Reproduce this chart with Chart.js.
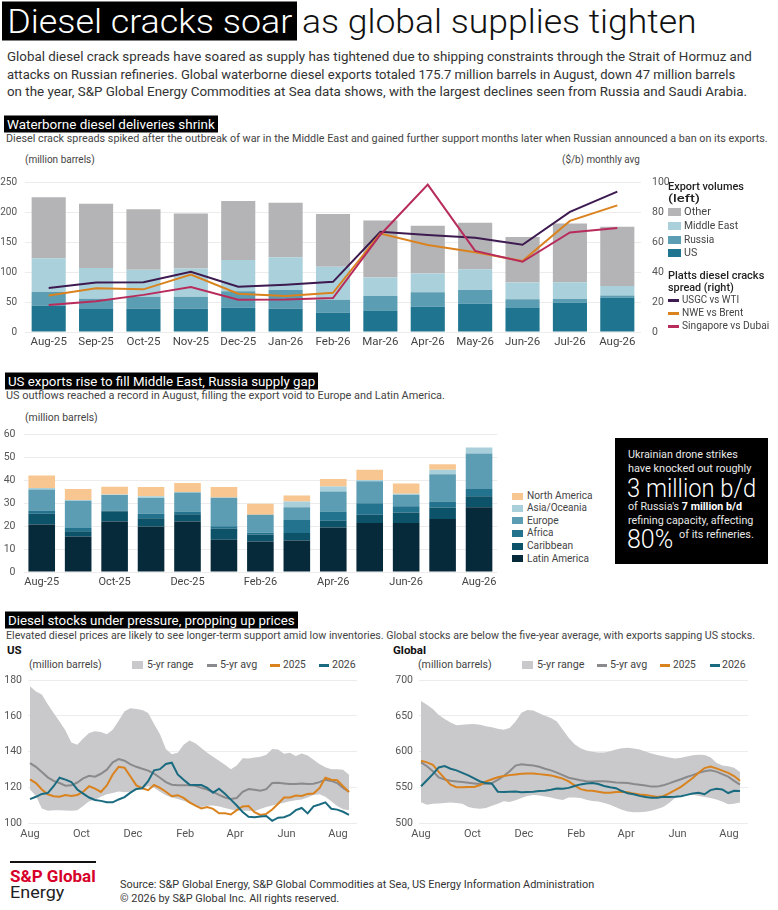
<!DOCTYPE html>
<html><head><meta charset="utf-8"><title>Diesel cracks soar</title>
<script src="https://cdn.jsdelivr.net/npm/chart.js@4.4.1/dist/chart.umd.min.js"></script>
<style>
*{box-sizing:border-box}
html,body{margin:0;padding:0;background:#fff}
body{width:778px;height:910px;position:relative;overflow:hidden;font-family:Roboto,"Liberation Sans",sans-serif;color:#222}
.t{position:absolute;white-space:nowrap;line-height:1.15;transform:translateY(-50%);transform-origin:0 50%}
.hd{background:#000;color:#fff;padding:1px 3px;font-size:13.5px;line-height:15px}
.p{font-size:13.2px;color:#333}
.s{font-size:11px;color:#444}
.lg{font-size:11.5px;color:#444}
.sw{position:absolute}
canvas{position:absolute}
.bx{color:#e8e8e8;font-size:11px}
</style></head><body>

<div class="t" data-w="295" style="left:2px;top:21px;background:#000;color:#fff;font-size:34px;line-height:39px;padding:0 5px;font-weight:300">Diesel cracks soar</div>
<div class="t" data-w="395" style="left:302px;top:21px;font-size:34px;line-height:39px;color:#111;font-weight:300">as global supplies tighten</div>

<div class="t p" data-w="745" style="left:7px;top:57px">Global diesel crack spreads have soared as supply has tightened due to shipping constraints through the Strait of Hormuz and</div>
<div class="t p" data-w="728" style="left:7px;top:74.5px">attacks on Russian refineries. Global waterborne diesel exports totaled 175.7 million barrels in August, down 47 million barrels</div>
<div class="t p" data-w="740" style="left:7px;top:92px">on the year, S&amp;P Global Energy Commodities at Sea data shows, with the largest declines seen from Russia and Saudi Arabia.</div>

<div class="t hd" data-w="214" style="left:4px;top:124px">Waterborne diesel deliveries shrink</div>
<div class="t s" data-w="762" style="left:6px;top:139px">Diesel crack spreads spiked after the outbreak of war in the Middle East and gained further support months later when Russian announced a ban on its exports.</div>
<div class="t s" data-w="70" style="left:25px;top:160px">(million barrels)</div>
<div class="t s" data-w="78" style="left:562px;top:160px">($/b) monthly avg</div>
<canvas id="c1" width="670" height="190" style="left:0;top:165px"></canvas>

<div class="t lg" data-w="76" style="left:668px;top:187px;color:#222;font-weight:500">Export volumes</div>
<div class="t lg" data-w="32" style="left:668px;top:199px;color:#222;font-weight:500">(left)</div>
<div class="sw" style="left:668px;top:208px;width:13px;height:8px;background:#b4b4b6"></div>
<div class="t lg" data-w="27" style="left:684px;top:212px">Other</div>
<div class="sw" style="left:668px;top:222px;width:13px;height:8px;background:#aad1db"></div>
<div class="t lg" data-w="54" style="left:684px;top:226px">Middle East</div>
<div class="sw" style="left:668px;top:235.5px;width:13px;height:8px;background:#5b9db3"></div>
<div class="t lg" data-w="30" style="left:684px;top:239.5px">Russia</div>
<div class="sw" style="left:668px;top:249px;width:13px;height:8px;background:#1f7590"></div>
<div class="t lg" data-w="13" style="left:684px;top:253px">US</div>
<div class="t lg" data-w="96" style="left:668px;top:275.5px;color:#222;font-weight:500">Platts diesel cracks</div>
<div class="t lg" data-w="66" style="left:668px;top:287.5px;color:#222;font-weight:500">spread (right)</div>
<div class="sw" style="left:668px;top:299px;width:11px;height:2.5px;background:#3d1a4f"></div>
<div class="t lg" data-w="57" style="left:682px;top:300px">USGC vs WTI</div>
<div class="sw" style="left:668px;top:312px;width:11px;height:2.5px;background:#d9821e"></div>
<div class="t lg" data-w="61" style="left:682px;top:313px">NWE vs Brent</div>
<div class="sw" style="left:668px;top:325px;width:11px;height:2.5px;background:#b82c5c"></div>
<div class="t lg" data-w="87" style="left:682px;top:326px">Singapore vs Dubai</div>

<div class="t hd" data-w="313" style="left:5px;top:380.5px">US exports rise to fill Middle East, Russia supply gap</div>
<div class="t s" data-w="439" style="left:6px;top:396px">US outflows reached a record in August, filling the export void to Europe and Latin America.</div>
<div class="t s" data-w="73" style="left:25px;top:418px">(million barrels)</div>
<canvas id="c2" width="500" height="170" style="left:0;top:420px"></canvas>

<div class="sw" style="left:512px;top:492.5px;width:11px;height:7px;background:#f8c690"></div>
<div class="t lg" data-w="66" style="left:527px;top:496px">North America</div>
<div class="sw" style="left:512px;top:504.5px;width:11px;height:7px;background:#a9d0da"></div>
<div class="t lg" data-w="60" style="left:527px;top:508px">Asia/Oceania</div>
<div class="sw" style="left:512px;top:517px;width:11px;height:7px;background:#5c9db4"></div>
<div class="t lg" data-w="32" style="left:527px;top:520.5px">Europe</div>
<div class="sw" style="left:512px;top:529.5px;width:11px;height:7px;background:#23728e"></div>
<div class="t lg" data-w="26" style="left:527px;top:533px">Africa</div>
<div class="sw" style="left:512px;top:542.5px;width:11px;height:7px;background:#0c5269"></div>
<div class="t lg" data-w="46" style="left:527px;top:546px">Caribbean</div>
<div class="sw" style="left:512px;top:555px;width:11px;height:7px;background:#062a3a"></div>
<div class="t lg" data-w="62" style="left:527px;top:558.5px">Latin America</div>

<div class="sw" style="left:615px;top:438px;width:153px;height:126px;background:#000"></div>
<div class="t bx" data-w="110" style="left:628px;top:455px">Ukrainian drone strikes</div>
<div class="t bx" data-w="123" style="left:628px;top:469px">have knocked out roughly</div>
<div class="t" data-w="129" style="left:627px;top:489px;color:#fff;font-size:25px;font-weight:300">3 million b/d</div>
<div class="t bx" data-w="114" style="left:628px;top:507px">of Russia's <b style="color:#fff">7 million b/d</b></div>
<div class="t bx" data-w="125" style="left:628px;top:521px">refining capacity, affecting</div>
<div class="t" data-w="46" style="left:627px;top:540px;color:#fff;font-size:25px;font-weight:300">80%</div>
<div class="t bx" data-w="75" style="left:679px;top:535px">of its refineries.</div>

<div class="t hd" data-w="293" style="left:5px;top:620px">Diesel stocks under pressure, propping up prices</div>
<div class="t s" data-w="749" style="left:6px;top:636px">Elevated diesel prices are likely to see longer-term support amid low inventories. Global stocks are below the five-year average, with exports sapping US stocks.</div>
<div class="t" style="left:7px;top:651px;font-size:11.5px;font-weight:700;color:#111">US</div>
<div class="t" style="left:393px;top:651px;font-size:11.5px;font-weight:700;color:#111">Global</div>

<div class="t s" data-w="73" style="left:29px;top:665px">(million barrels)</div>
<div class="sw" style="left:132px;top:661px;width:11px;height:8px;background:#c9c9cb"></div>
<div class="t s" data-w="46" style="left:147px;top:665px">5-yr range</div>
<div class="sw" style="left:207px;top:664px;width:10px;height:2.5px;background:#8a8a8c"></div>
<div class="t s" data-w="37" style="left:220px;top:665px">5-yr avg</div>
<div class="sw" style="left:270px;top:664px;width:10px;height:2.5px;background:#d9821e"></div>
<div class="t s" data-w="23" style="left:283px;top:665px">2025</div>
<div class="sw" style="left:319px;top:664px;width:10px;height:2.5px;background:#1a6b80"></div>
<div class="t s" data-w="24" style="left:332px;top:665px">2026</div>

<div class="t s" data-w="74" style="left:418px;top:665px">(million barrels)</div>
<div class="sw" style="left:522px;top:661px;width:11px;height:8px;background:#c9c9cb"></div>
<div class="t s" data-w="47" style="left:537px;top:665px">5-yr range</div>
<div class="sw" style="left:597px;top:664px;width:10px;height:2.5px;background:#8a8a8c"></div>
<div class="t s" data-w="37" style="left:610px;top:665px">5-yr avg</div>
<div class="sw" style="left:660px;top:664px;width:10px;height:2.5px;background:#d9821e"></div>
<div class="t s" data-w="23" style="left:673px;top:665px">2025</div>
<div class="sw" style="left:710px;top:664px;width:10px;height:2.5px;background:#1a6b80"></div>
<div class="t s" data-w="24" style="left:722px;top:665px">2026</div>

<canvas id="c3" width="362" height="178" style="left:0;top:668px"></canvas>
<canvas id="c4" width="362" height="178" style="left:391px;top:668px"></canvas>

<div class="sw" style="left:10px;top:861px;width:86px;height:2px;background:#111"></div>
<div class="t" data-w="86" style="left:10px;top:877px;font-size:17px;font-weight:700;color:#d6002a">S&amp;P Global</div>
<div class="t" data-w="54" style="left:10px;top:893px;font-size:17px;color:#222">Energy</div>
<div class="t" data-w="474" style="left:120px;top:885px;font-size:10.5px;color:#333">Source: S&amp;P Global Energy, S&amp;P Global Commodities at Sea, US Energy Information Administration</div>
<div class="t" data-w="219" style="left:120px;top:899px;font-size:10.5px;color:#333">© 2026 by S&amp;P Global Inc. All rights reserved.</div>

<script>
// ---------- Chart 1 data ----------
const months1 = ['Aug-25','Sep-25','Oct-25','Nov-25','Dec-25','Jan-26','Feb-26','Mar-26','Apr-26','May-26','Jun-26','Jul-26','Aug-26'];
const usVol     = [44, 38.5, 39, 39, 40.6, 39, 32, 36, 42, 47, 40, 49, 57];
const russiaVol = [23, 17, 20, 20, 27.6, 31, 22, 24, 24.5, 23, 14.6, 6, 4];
const meVol     = [56, 51.5, 45, 47, 52, 55, 55, 31, 31, 35, 28, 28, 16];
const otherVol  = [102, 107, 101, 92, 98.5, 91, 88, 95, 80, 77.6, 76, 98, 98.7];
const usgcCrack = [29.4, 33, 33.3, 40.2, 30.2, 31.5, 33.5, 67, 64.8, 62.9, 58.3, 80.2, 93.8];
const nweCrack  = [24.4, 29.2, 28.5, 38.3, 25.6, 24, 26.2, 65.8, 58.1, 53.3, 47.5, 74.2, 84.6];
const singCrack = [18.1, 20.6, 24.8, 30, 21.5, 21.7, 22.7, 65, 98.5, 54.2, 46.9, 66.5, 69.4];

// ---------- Chart 2 data ----------
const months2 = ['Aug-25','Sep-25','Oct-25','Nov-25','Dec-25','Jan-26','Feb-26','Mar-26','Apr-26','May-26','Jun-26','Jul-26','Aug-26'];
const tickLabels2 = ['Aug-25','','Oct-25','','Dec-25','','Feb-26','','Apr-26','','Jun-26','','Aug-26'];
const latamExp  = [20.7, 15.5, 22, 19.8, 22, 14.1, 13.3, 13.7, 19.4, 21.4, 21.4, 23.1, 28.2];
const caribExp  = [4.7, 2.3, 4.5, 3.6, 3.2, 4.7, 3, 3.3, 2.9, 3.5, 4.5, 5, 4.8];
const africaExp = [1.4, 1.4, 0.3, 2, 1.2, 1.1, 0.8, 5.7, 4.1, 5.1, 2.7, 2.6, 3.2];
const europeExp = [9.1, 11.9, 6.8, 6.8, 8.2, 12.4, 7.9, 5.5, 8.7, 9.5, 5, 11.9, 15.4];
const asiaExp   = [0.7, 0.3, 0.2, 0.8, 0.3, 0.2, 0, 2.5, 2.2, 0.6, 0.5, 1.9, 2.7];
const naExp     = [5.4, 4.8, 3.4, 4, 3.9, 4.5, 4.7, 2.6, 3.2, 4.4, 4.5, 2.4, 0];

// ---------- Chart 3 data (weekly, days from 1 Aug) ----------
const weekDays = [0,7,14,21,28,35,42,49,56,63,70,77,84,91,98,105,112,119,126,133,140,147,154,161,168,175,182,189,196,203,210,217,224,231,238,245,252,259,266,273,280,287,294,301,308,315,322,329,336,343,350,357,364,371,378];
const dayTicks = [0, 61, 122, 184, 243, 304, 365];
const dayTickLabels = ['Aug','Oct','Dec','Feb','Apr','Jun','Aug'];

const usUpper = [176.6,173.7,172,166.6,161.7,156.9,151.9,145.1,143.8,147.4,150.5,151.4,151,149.8,152.3,157.3,162.6,164.4,163.9,163.4,161.7,155.5,149.8,141.5,138.5,139.4,143.8,146.2,144.7,142.1,139.4,137.2,134.9,132.6,130.1,132.2,136.3,136.2,136.7,137.2,138.3,141.5,141.2,138.8,139.4,137.6,139,137.9,135.4,133.1,131.3,130.1,130.1,129.9,127];
const usLower = [118.8,115.2,108.1,106.8,107.2,107.2,107,106.8,107.2,109.5,112.2,113.1,114.7,116.1,116.8,117.7,117.2,117.5,118.4,119.7,120.6,119.7,117.5,115.6,114.3,113.4,112.5,111.1,109.8,108.9,109.7,109.8,109.3,108.4,107.5,107,106.8,106.8,106.6,107.9,108.9,109.8,110.6,111.3,112.2,112.7,113.2,114.3,115.7,116.1,114.7,112.2,109.5,107.7,107.2];
const usAvg = [133.6,131.5,128.6,125.6,123.6,122.4,120.9,121.1,122.7,125,126.5,126,127.6,129.9,134,135.8,134.9,132.9,131.5,130.4,129.4,127.7,125.4,122.9,121.5,121.1,121.1,121.1,120.9,119.7,118.8,117.4,115.8,114.3,113.4,114,117.5,119,118.6,118.1,119,122.4,122.5,122.2,121.8,121.8,122.2,121.8,122,122.9,124.3,123.6,122.4,119.7,117.5];
const us2025 = [124.5,122.4,118.8,116.1,115,114.7,115.7,115.2,115.7,117.5,120.6,119.3,117.4,121,127.2,131.5,131,126.1,121.1,119.5,118.4,121.3,119.7,117.5,115,115.6,114.1,111.6,109.7,108.2,108.9,107.9,105.5,105.4,104.8,107.2,109.3,109.5,106.1,104.5,105.1,107.6,110.8,114.3,114.3,115.4,115.2,116.3,116.5,119.5,125.4,124.3,124,120.6,117.4];
const us2026 = [113.4,114.7,116.3,116.8,120.6,125.4,124.3,123,118.8,116.5,114.3,112.9,112.4,111.6,111.6,113.2,114.5,117,119.1,119.5,123.4,129.5,130.2,133.1,133.8,127.2,124.2,121.5,121.3,121.3,119.7,117,119.2,116.4,113.1,109.8,106.1,103.5,103.2,103.6,103.9,101.2,103,103.2,104.5,107.2,108.4,105.4,109.3,110.4,111.6,108,107.5,106.3,104.5];

const glUpper = [670.9,665.6,659.7,651.2,645.9,640.9,636.9,637.8,638.3,638.7,637.8,635.6,634.2,632,630.7,633.3,642.3,654.4,658.4,657.5,653.9,650.3,647.2,642.3,630.7,619.5,610.5,604.7,601.6,599.8,598.9,598.9,600.7,602.9,604.7,605.6,604.3,602.9,600.2,597.5,595.3,593.5,591.7,590.4,591.3,593.1,594.9,595.8,595.3,592.2,584.6,580.5,579.6,577.4,571.6];
const glLower = [529.1,525.5,526.9,527.3,528.2,528.6,528.2,526.9,522.4,520.6,520.1,521,524.2,526.9,530.4,529.5,531.8,534.9,538,539.4,538.5,537.1,535.8,533.6,532.2,535.8,535.8,534.9,532.7,530.9,530,528.2,525.5,522,518.4,516.1,515.2,515.2,515.7,517,519.7,522.4,528.2,534.9,538.9,540.3,539.8,538,536.3,534.9,533.1,530,526.4,526.9,528.6];
const glAvg = [585,579.6,572.5,564,560.9,559.1,558.2,557.3,556.4,555.5,554.6,555,555.9,560.4,565.8,572.5,580.5,582.3,581.4,580.5,578.8,576.1,573.8,570.7,567.1,563.5,561.8,560,558.6,558.2,558.6,558.6,557.7,556.8,556.4,555.9,554.6,553.7,552.4,551,551,552.8,555.5,558.6,561.3,564.4,567.1,570.3,572.5,573.8,572,568.5,564.9,559.1,553.7];
const gl2025 = [587.3,585,581.4,571.6,562.6,553.7,550.1,550.1,550.6,550.6,553.3,558.2,561.3,564,565.8,567.1,568,568.9,569.4,569.4,568.5,567.6,566.7,564.4,562.2,558.2,552.8,547.4,545.6,545.2,543.9,542.5,542.5,543.4,543.9,543,541.2,539.8,539.4,538,536.3,537.6,541.6,546.1,550.6,556.8,563.1,570.3,577,579.2,576.5,573.4,570.3,565.8,559.1];
const gl2026 = [551.5,560,568.5,577.9,579.7,576.1,573.8,570.3,566.7,562.6,558.2,556,555,543.9,543.4,543.9,544.3,543,543.4,543.9,544.8,545.2,546.5,548.3,547.9,549.2,551.9,554.1,555.5,556,554.6,551.9,550.1,548.8,544.8,541.6,540.3,538,536.3,535.4,535.4,536.7,536.3,536.7,537.6,539.4,541.2,542.5,540.3,546.1,547.9,547,542,545.2,544.8];

// ---------- text fitting ----------
function fit(){
  document.querySelectorAll('[data-w]').forEach(el=>{
    const w = el.offsetWidth; const target = +el.dataset.w;
    if (w > 0) el.style.transform = 'translateY(-50%) scaleX(' + (target / w) + ')';
  });
}
fit();
if (document.fonts && document.fonts.ready) document.fonts.ready.then(fit);

// ---------- Chart.js ----------
Chart.defaults.font.family = "Roboto, 'Liberation Sans', sans-serif";
Chart.defaults.font.size = 11;
Chart.defaults.color = '#555';
Chart.defaults.animation = false;
Chart.defaults.plugins.legend.display = false;
Chart.defaults.plugins.tooltip.enabled = false;

const noBorder = {display:false};
const noGrid = {display:false, drawTicks:false};
const line = (data, color, order, axis) => ({type:'line', data, borderColor:color, borderWidth:2, pointRadius:0, tension:0, fill:false, order, yAxisID:axis});
const bar = (data, color) => ({type:'bar', data, backgroundColor:color, borderWidth:0, order:10, stack:'s'});

new Chart(document.getElementById('c1'), {
  data:{labels:months1, datasets:[
    bar(usVol,'#1f7590'), bar(russiaVol,'#5b9db3'), bar(meVol,'#aad1db'), bar(otherVol,'#b4b4b6'),
    line(usgcCrack,'#3d1a4f',3,'y1'), line(nweCrack,'#d9821e',2,'y1'), line(singCrack,'#b82c5c',1,'y1')
  ].map(d=>d.type==='bar'?Object.assign(d,{yAxisID:'y',barPercentage:0.72,categoryPercentage:1}):d)},
  options:{responsive:false, maintainAspectRatio:false,
    layout:{padding:{top:7,left:0,right:0,bottom:0}},
    scales:{
      x:{stacked:true, grid:noGrid, border:noBorder, ticks:{padding:3,color:'#444',font:{size:11.5},maxRotation:0,autoSkip:false}, afterFit(s){s.height=23;}},
      y:{stacked:true, position:'left', min:0, max:250, grid:{color:'#ececec',drawTicks:false}, border:noBorder, ticks:{stepSize:50,padding:8,color:'#555',font:{size:10}}, afterFit(s){s.width=25;}},
      y1:{position:'right', min:0, max:100, grid:noGrid, border:noBorder, ticks:{stepSize:20,padding:11,color:'#555',font:{size:10.5}}, afterFit(s){s.width=29;}}
    }}
});

new Chart(document.getElementById('c2'), {
  type:'bar',
  data:{labels:months2, datasets:[
    {data:latamExp, backgroundColor:'#062a3a'},
    {data:caribExp, backgroundColor:'#0c5269'},
    {data:africaExp, backgroundColor:'#23728e'},
    {data:europeExp, backgroundColor:'#5c9db4'},
    {data:asiaExp, backgroundColor:'#a9d0da'},
    {data:naExp, backgroundColor:'#f8c690'}
  ].map(d=>Object.assign(d,{barPercentage:0.73,categoryPercentage:1,borderWidth:0}))},
  options:{responsive:false, maintainAspectRatio:false,
    layout:{padding:{top:8,left:0,right:2,bottom:0}},
    scales:{
      x:{stacked:true, grid:noGrid, border:noBorder, ticks:{padding:3.5,color:'#444',maxRotation:0,autoSkip:false,callback:(v,i)=>tickLabels2[i]}, afterFit(s){s.height=18;}},
      y:{stacked:true, min:0, max:60, grid:{color:'#ececec',drawTicks:false}, border:noBorder, ticks:{stepSize:10,padding:8,font:{size:10.5}}, afterFit(s){s.width=23.5;}}
    }}
});

function stockChart(id, lower, upper, avg, y25, y26, ymin, ymax, step){
  const pts = arr => arr.map((v,i)=>({x:weekDays[i], y:v}));
  new Chart(document.getElementById(id), {
    type:'line',
    data:{datasets:[
      {data:pts(lower), borderWidth:0, borderColor:'rgba(0,0,0,0)', pointRadius:0, fill:false, order:10},
      {data:pts(upper), borderWidth:0, borderColor:'rgba(0,0,0,0)', pointRadius:0, fill:'-1', backgroundColor:'#c9c9cb', order:9},
      {data:pts(avg), borderColor:'#8a8a8c', borderWidth:2, pointRadius:0, order:3},
      {data:pts(y25), borderColor:'#d9821e', borderWidth:2, pointRadius:0, order:2},
      {data:pts(y26), borderColor:'#1a6b80', borderWidth:2, pointRadius:0, order:1}
    ]},
    options:{responsive:false, maintainAspectRatio:false,
      layout:{padding:{top:6,left:0,right:5,bottom:0}},
      scales:{
        x:{type:'linear', min:-2.4, max:387.5, grid:noGrid, border:noBorder,
           afterBuildTicks(s){ s.ticks = dayTicks.map(v=>({value:v})); },
           ticks:{padding:4.5,color:'#555',maxRotation:0,autoSkip:false,callback:(v,i)=>dayTickLabels[i]},
           afterFit(s){s.height=23;}},
        y:{min:ymin, max:ymax, grid:{color:'#ececec',drawTicks:false}, border:noBorder, ticks:{stepSize:step,padding:6,autoSkip:false,font:{size:10.5}}, afterFit(s){s.width=28;}}
      }}
  });
}
stockChart('c3', usLower, usUpper, usAvg, us2025, us2026, 100, 180, 20);
stockChart('c4', glLower, glUpper, glAvg, gl2025, gl2026, 500, 700, 50);
</script>
</body></html>
